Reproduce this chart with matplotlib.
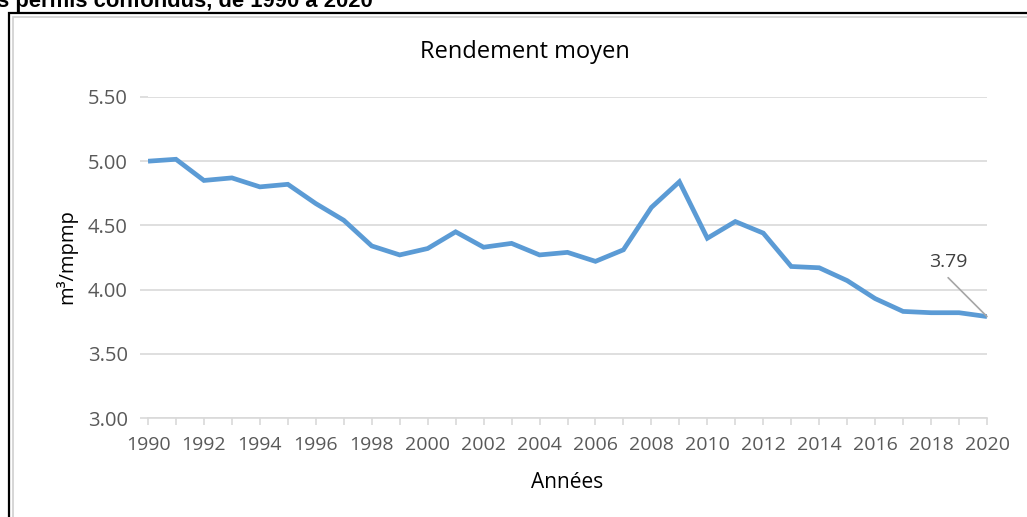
import matplotlib
matplotlib.use("Agg")
import matplotlib.pyplot as plt
from matplotlib.patches import Rectangle

years = list(range(1990, 2021))
rendement = [5.00, 5.015, 4.85, 4.87, 4.80, 4.82, 4.67, 4.54, 4.34, 4.27,
             4.32, 4.45, 4.33, 4.36, 4.27, 4.29, 4.22, 4.31, 4.64, 4.84,
             4.40, 4.53, 4.44, 4.18, 4.17, 4.07, 3.93, 3.83, 3.82, 3.82,
             3.79]
yticks = [3.00, 3.50, 4.00, 4.50, 5.00, 5.50]
xlabels_years = list(range(1990, 2021, 2))

W, H = 1027, 517
fig = plt.figure(figsize=(W / 100, H / 100), dpi=100)
fig.patch.set_facecolor("white")

def fx(px):
    return px / W

def fy(py):
    return 1 - py / H

# frame borders (double: black + grey)
fig.add_artist(Rectangle((fx(8.5), fy(1200)), fx(1200), fy(12.5) - fy(1200),
                         transform=fig.transFigure, fill=False, ec="black", lw=1.6))
fig.add_artist(Rectangle((fx(13), fy(1200)), fx(1200), fy(16.5) - fy(1200),
                         transform=fig.transFigure, fill=False, ec="#d0d0d0", lw=1.2))

# cut-off heading
fig.text(fx(-3), fy(6.5), "s permis confondus, de 1990 à 2020", fontsize=15.8,
         fontweight="bold", family="Liberation Sans", ha="left", va="baseline",
         color="black")

ax = fig.add_axes([fx(148), fy(418), fx(987) - fx(148), fy(97) - fy(418)])
ax.plot(years, rendement, color="#5b9bd5", lw=3.4, solid_joinstyle="miter",
        solid_capstyle="butt", zorder=3)
ax.set_xlim(1990, 2020)
ax.set_ylim(3.0, 5.5)
ax.set_yticks(yticks)
ax.set_yticklabels([f"{v:.2f}" for v in yticks])
ax.set_xticks(years)
ax.set_xticklabels([str(y) if y in xlabels_years else "" for y in years])
ax.grid(axis="y", color="#d9d9d9", lw=1.2, zorder=0)
for s in ["top", "right", "left"]:
    ax.spines[s].set_visible(False)
ax.spines["bottom"].set_color("#d9d9d9")
ax.spines["bottom"].set_linewidth(1.2)
ax.tick_params(axis="x", colors="#d9d9d9", labelcolor="#595959", length=5,
               width=1.2, direction="out", labelsize=14, pad=8)
ax.tick_params(axis="y", colors="#d9d9d9", labelcolor="#595959", length=6,
               width=1.2, labelsize=14.5, pad=8.5)
for lab in ax.get_xticklabels() + ax.get_yticklabels():
    lab.set_family("Open Sans")

# titles and axis labels
fig.text(fx(525), fy(58), "Rendement moyen", fontsize=17, family="Open Sans",
         color="black", ha="center", va="baseline")
fig.text(fx(567), fy(488), "Années", fontsize=15, family="Open Sans",
         color="black", ha="center", va="baseline")
fig.text(fx(66), fy(257), "m³/mpmp", fontsize=14.5, family="Open Sans",
         color="black", ha="center", va="center", rotation=90)

# data label with leader line
ax.annotate("", xy=(years[-1], rendement[-1]), xytext=(-28, 28),
            textcoords="offset points",
            arrowprops=dict(arrowstyle="-", color="#a6a6a6", lw=1.2,
                            shrinkA=0, shrinkB=0),
            annotation_clip=False, zorder=4)
ax.annotate(f"{rendement[-1]:.2f}", xy=(years[-1], rendement[-1]),
            xytext=(-28, 39.5), textcoords="offset points",
            ha="center", va="center", fontsize=14, family="Open Sans",
            color="#404040", annotation_clip=False, zorder=4)

fig.savefig("out.png", dpi=100)
